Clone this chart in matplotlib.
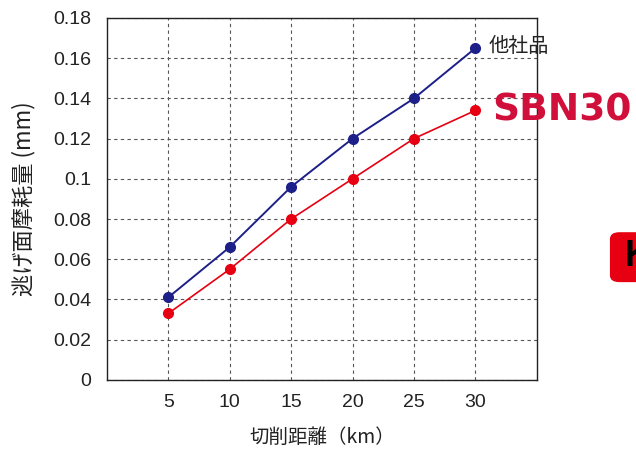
import matplotlib.pyplot as plt
from matplotlib.patches import FancyBboxPatch

distance = [5, 10, 15, 20, 25, 30]
other_wear = [0.041, 0.066, 0.096, 0.120, 0.140, 0.165]
sbn_wear = [0.033, 0.055, 0.080, 0.100, 0.120, 0.134]
y_ticks = [0, 0.02, 0.04, 0.06, 0.08, 0.1, 0.12, 0.14, 0.16, 0.18]
y_tick_labels = ['0', '0.02', '0.04', '0.06', '0.08', '0.1', '0.12', '0.14', '0.16', '0.18']

plt.rcParams['font.family'] = ['Liberation Sans', 'Noto Sans CJK JP', 'DejaVu Sans']
jp = ['Noto Sans CJK JP', 'DejaVu Sans']

fig = plt.figure(figsize=(6.36, 4.5), dpi=100)
ax = fig.add_axes([0.168, 0.156, 0.676, 0.804])

blue = '#1d2088'
red = '#e60012'

ax.plot(distance, other_wear, color=blue, lw=1.4, marker='o', ms=7, zorder=3, clip_on=False)
ax.plot(distance, sbn_wear, color=red, lw=1.2, marker='o', ms=7, zorder=3, clip_on=False)

ax.set_xlim(0, 35)
ax.set_ylim(0, 0.18)
ax.set_xticks(distance)
ax.set_yticks(y_ticks)
ax.set_yticklabels(y_tick_labels)
ax.tick_params(length=0, labelsize=14, colors='#222222')
ax.tick_params(axis='y', pad=11)
ax.tick_params(axis='x', pad=10)
ax.grid(True, color='#555555', ls=(0, (3, 3)), lw=0.8)
for s in ax.spines.values():
    s.set_color('#222222')
    s.set_linewidth(1.0)

ax.set_xlabel('切削距離（km）', fontsize=14, labelpad=12, color='#222222', family=jp)
ax.set_ylabel('逃げ面摩耗量 (mm)', fontsize=16, labelpad=13, color='#222222', family=jp)

ax.text(31.1, other_wear[-1] + 0.001, '他社品', fontsize=14.5, va='center', ha='left',
        color='#222222', family=jp, clip_on=False)
fig.text(0.774, 0.755, 'SBN30', fontsize=27, fontweight='heavy', color='#d0103a',
         va='center', ha='left', family='DejaVu Sans')

# partial logo badge at right edge
badge = FancyBboxPatch((0.959, 0.373), 0.06, 0.111, boxstyle='round,pad=0,rounding_size=0.015',
                       transform=fig.transFigure, facecolor=red, edgecolor='none')
fig.patches.append(badge)
fig.text(0.982, 0.43, 'K', fontsize=26, fontweight='bold', color='black', va='center', ha='left')

fig.savefig('out.png', dpi=100)
